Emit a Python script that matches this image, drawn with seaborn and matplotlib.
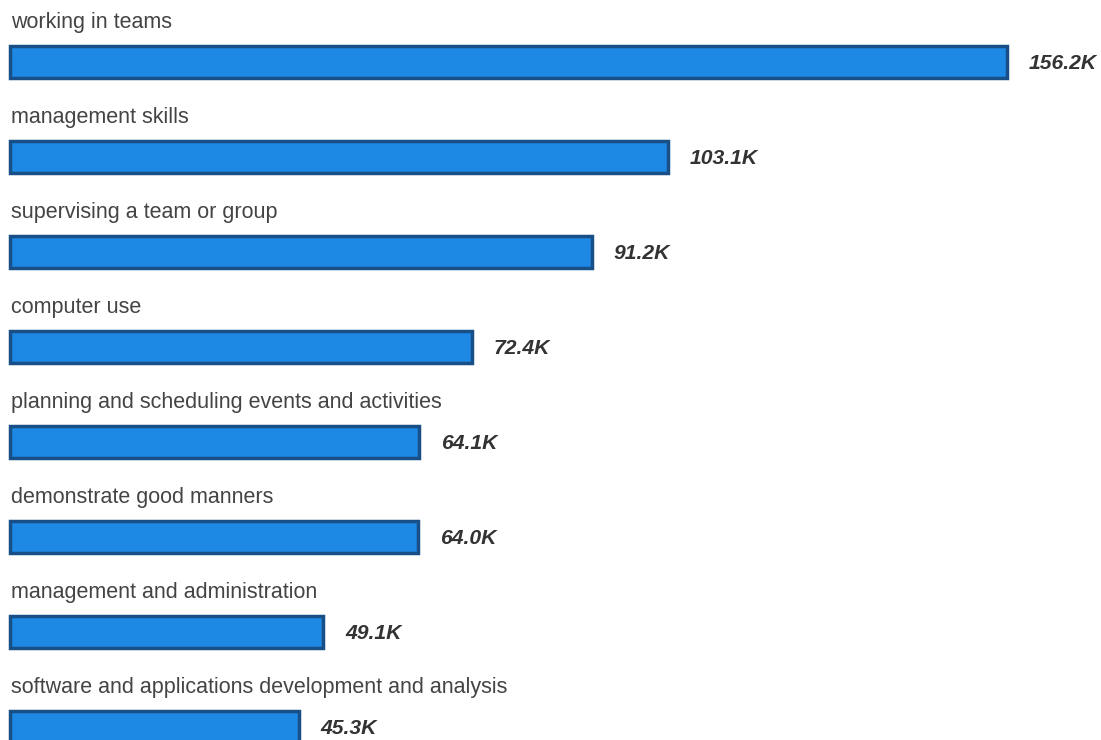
import matplotlib
matplotlib.use("Agg")
import matplotlib.pyplot as plt
import seaborn as sns
import pandas as pd

skills = [
    "working in teams",
    "management skills",
    "supervising a team or group",
    "computer use",
    "planning and scheduling events and activities",
    "demonstrate good manners",
    "management and administration",
    "software and applications development and analysis",
]
counts_k = [156.2, 103.1, 91.2, 72.4, 64.1, 64.0, 49.1, 45.3]

df = pd.DataFrame({"skill": skills, "count": counts_k})

sns.set_theme(style="white")
plt.rcParams["font.family"] = ["Liberation Sans", "DejaVu Sans"]

fig = plt.figure(figsize=(11.01, 7.40), dpi=100)
ax = fig.add_axes([0, 0, 1, 1])

sns.barplot(data=df, y="skill", x="count", orient="h", ax=ax,
            color="#1E88E5", saturation=1, width=0.33,
            edgecolor="#174f86", linewidth=2.5)

ax.set_xlim(-1.567, 170.93)
ax.set_ylim(7.137, -0.653)
ax.axis("off")

for i, (s, v) in enumerate(zip(skills, counts_k)):
    ax.text(0.2, i - 0.42, s, ha="left", va="center", fontsize=15.5,
            color="#444444")
    ax.text(v + 3.4, i + 0.02, f"{v:.1f}K", ha="left", va="center", fontsize=15.2,
            fontweight="bold", fontstyle="italic", color="#333333")

fig.savefig("out.png", dpi=100)
